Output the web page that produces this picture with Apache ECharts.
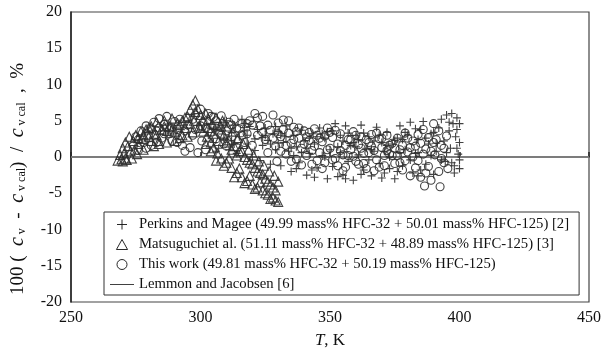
<!DOCTYPE html>
<html>
<head>
<meta charset="utf-8">
<script src="https://cdn.jsdelivr.net/npm/echarts@6/dist/echarts.min.js"></script>
<style>
  html, body { margin: 0; padding: 0; background: #fff; }
  #chart { width: 604px; height: 354px; }
</style>
</head>
<body>
<div id="chart"></div>
<script>
// Perkins and Magee [2]: [T (K), deviation (%)]
var perkins = [
  [303,3.0],[304,4.5],[305,2.0],[306,3.8],[307,1.2],[308,4.0],[309,2.6],[310,5.0],[311,1.0],[312,3.4],
  [313,4.4],[314,0.5],[315,2.8],[316,5.2],[317,3.6],[318,1.8],[319,4.2],[320,0.0],[321,2.5],[322,3.8],
  [323,-0.5],[324,1.6],[325,4.0],[326,2.3],[327,-1.0],[328,3.2],[329,1.0],[330,3.5],[331,-1.2],[332,2.0],
  [333,4.3],[334,0.8],[335,-2.0],[336,3.0],[337,1.4],[338,-0.8],[339,3.7],[340,2.2],[341,-2.5],[342,0.5],
  [343,3.2],[344,1.8],[345,-1.5],[346,4.0],[347,0.2],[348,2.6],[349,-3.0],[350,1.0],[351,3.6],[352,4.6],
  [353,-2.7],[354,0.6],[355,2.2],[356,4.3],[357,-0.6],[358,1.6],[359,-3.2],[360,3.0],[361,0.3],[362,4.4],
  [363,-1.8],[364,1.2],[365,2.8],[366,-2.6],[367,0.8],[368,4.1],[369,-0.9],[370,2.0],[371,-2.2],[372,3.4],
  [373,0.0],[374,1.8],[375,-3.0],[376,2.6],[377,4.3],[378,-1.2],[379,1.0],[380,3.0],[381,4.8],[382,-2.2],
  [383,0.5],[384,2.4],[385,3.8],[386,4.9],[387,-1.0],[388,1.8],[389,3.2],[390,-2.4],[391,0.8],[392,4.0],
  [393,5.2],[394,2.2],[394.5,-0.6],[395,5.8],[396,3.6],[396.5,1.2],[397,6.0],[397.5,4.6],[398,-1.2],[398.5,2.8],
  [399,5.4],[399,3.8],[399.5,0.4],[400,4.6],[400,2.0],[400,-1.6],[398,-2.2],
  [305,3.8],[312,2.2],[318,3.0],[324,2.7],[330,1.9],[336,0.2],[342,2.6],[348,0.0],[354,3.0],[360,1.4],
  [366,1.0],[372,1.6],[378,2.4],[384,0.6],[390,3.4],[396,4.8],
  [306,0.8],[309,4.8],[313,1.8],[317,4.6],[321,0.9],[325,3.0],[329,4.2],[333,2.8],[337,-1.6],[341,1.2],
  [345,2.8],[349,3.5],[353,1.4],[357,3.3],[361,2.4],[365,-0.4],[369,3.0],[373,-1.6],[377,0.6],[381,-0.4],
  [385,-1.8],[389,0.2],[393,-0.4],[397,-0.8],[327,1.8],[331,3.0],[335,1.2],[339,0.6],[343,-1.8],[347,3.2],
  [351,-1.3],[355,-2.5],[359,2.0],[363,3.3],[367,2.2],[371,0.8],[375,2.3],[379,3.4],[383,3.9],[387,2.6],
  [391,1.9],[395,0.6],[399,1.2],[400,-0.4],[344,-2.8],[356,-3.0],[362,-2.4],[370,-2.9],[376,-2.0],[384,-2.6]
];

// Matsuguchi et al. [3]
var matsuguchi = [
  [268,-0.5],[269,0.3],[269.5,-0.3],[270,1.2],[270.5,0.5],[271,2.0],[271.5,-0.4],[272,1.5],[272.5,2.8],[273,0.8],
  [273.5,-0.2],[274,2.2],[274.5,1.0],[275,3.0],[275.5,0.4],[276,1.8],[277,3.5],[277.5,2.5],[278,1.0],[279,3.8],
  [280,2.8],[281,4.2],[282,3.2],[283,4.8],[284,2.2],[285,3.8],[286,5.0],[287,2.0],[288,4.2],[289,5.3],
  [290,3.5],[291,4.6],[292,2.6],[293,5.0],[294,4.0],[295,5.6],[296,6.5],[297,7.2],[297.5,5.0],[298,7.8],
  [299,6.6],[299.5,4.2],[300,5.8],[301,3.5],[302,6.0],[302.5,2.8],[303,5.2],[304,2.0],[304.5,4.6],[305,1.2],
  [306,5.4],[306.5,0.5],[307,3.8],[308,-0.2],[308.5,5.0],[309,3.0],[310,-0.8],[310.5,4.2],[311,2.3],[312,-1.5],
  [312.5,3.5],[313,1.5],[314,-2.2],[314.5,2.6],[315,0.8],[316,-2.8],[316.5,1.8],[317,0.0],[318,-3.3],[318.5,1.0],
  [319,-0.8],[320,-3.8],[320.5,0.2],[321,-1.5],[322,-4.2],[322.5,-0.6],[323,-2.2],[324,-4.6],[324.5,-1.2],[325,-3.0],
  [326,-5.2],[326.5,-2.0],[327,-3.8],[328,-5.6],[328.5,-2.6],[329,-4.6],[330,-6.2],[330,-3.4],
  [270,-0.6],[271,-0.2],[282,1.5],[284,1.8],[290,2.2],[295,2.8],
  [301,5.0],[302,1.8],[303,4.0],[304,0.8],[305,3.2],[306,-0.5],[307,2.2],[308,4.2],[309,-1.2],[310,2.0],
  [311,-0.2],[312,1.0],[313,-2.8],[314,0.2],[315,-1.6],[316,0.8],[317,-3.6],[318,-0.4],[319,-2.6],[320,-1.0],
  [321,-4.4],[322,-2.0],[323,-3.5],[324,-2.4],[325,-5.0],[326,-3.4],[327,-5.8],[328,-4.2],[329,-6.0],
  [276,2.6],[278,3.0],[280,4.0],[283,3.0],[286,4.2],[289,3.8],[292,4.4],[294,5.4],[296,4.6],[298,6.2],
  [300,4.0],[297,3.4],[293,3.0],[287,3.6],[281,2.2]
];

// This work
var thisWork = [
  [274,1.5],[275,2.8],[276,0.9],[277,3.6],[278,2.0],[279,4.3],[280,3.0],[281,1.6],[282,4.8],[283,3.6],
  [284,5.3],[285,2.6],[286,4.5],[287,5.6],[288,3.2],[289,2.2],[290,4.9],[291,3.8],[292,5.2],[293,1.6],
  [294,0.8],[295,4.4],[296,1.3],[297,3.0],[298,5.8],[299,0.6],[300,6.6],[300.5,2.2],[301,4.8],[302,1.0],
  [303,6.0],[304,3.4],[305,5.5],[306,2.5],[307,4.2],[308,5.7],[309,1.8],[310,3.6],[311,4.8],[312,2.8],
  [313,5.2],[314,1.3],[315,3.9],[316,4.6],[317,2.0],[318,3.2],[319,5.0],[320,1.6],[321,6.0],[322,3.0],
  [323,4.3],[324,5.6],[325,2.4],[326,0.6],[327,3.7],[328,5.8],[329,1.5],[329.5,-0.6],[330,4.7],[331,2.8],
  [332,5.1],[333,0.4],[334,3.3],[335,1.9],[336,4.1],[337,-0.3],[338,2.6],[339,1.2],[340,3.6],[341,0.2],
  [342,2.3],[343,-1.0],[344,1.5],[345,3.0],[346,0.6],[347,2.1],[348,-0.8],[349,4.0],[350,1.2],[351,2.7],
  [352,-0.2],[353,1.8],[354,3.2],[355,0.3],[356,-1.4],[357,2.4],[358,1.0],[359,3.5],[360,-0.6],[361,1.7],
  [362,2.8],[363,0.5],[364,-1.6],[365,2.0],[366,3.1],[367,0.9],[368,-0.4],[369,2.5],[370,1.3],[371,-1.2],
  [372,3.0],[373,0.4],[374,1.9],[375,-0.9],[376,2.6],[377,1.0],[378,-1.8],[379,3.3],[380,0.7],[381,-2.6],
  [382,2.2],[383,1.5],[384,-0.5],[385,-2.8],[386,3.8],[386.5,-4.0],[387,1.1],[388,-1.3],[389,-3.2],[390,4.6],
  [390.5,0.3],[391,2.4],[392,-2.0],[392.5,-4.1],[393,1.6],[394,-0.8],[395,2.9],[395.5,-1.6],
  [283,2.0],[286,3.2],[289,4.0],[292,3.0],[298,3.8],[302,4.0],[306,5.0],[310,1.5],[314,4.0],[318,4.6],
  [322,5.4],[326,4.4],[330,3.2],[334,5.0],[338,4.0],[342,3.4],[346,2.6],[350,3.4],[354,0.9],[358,2.4],
  [362,1.2],[366,1.5],[370,2.6],[374,0.2],[378,1.6],[382,0.0],[386,0.4],[390,2.0],[394,1.2],
  [276,2.4],[279,1.2],[281,3.9],[284,4.0],[287,4.0],[291,2.0],[294,3.6],[297,5.2],[300,4.3],[304,5.6],
  [308,3.0],[312,4.4],[316,3.0],[320,4.4],[324,3.4],[328,2.6],[332,3.8],[336,2.4],[340,1.8],[344,3.9],
  [348,2.9],[352,3.7],[356,1.6],[360,3.0],[364,2.4],[368,3.3],[372,0.9],[376,0.2],[380,2.6],[384,3.1],
  [388,2.7],[392,3.6],[333,1.6],[337,3.5],[341,2.8],[345,-0.5],[349,1.0],[353,-1.2],[357,0.2],[361,-1.0],
  [365,0.6],[369,-1.4],[373,1.6],[377,-0.8],[381,1.3],[385,1.9],[389,0.8],[393,-0.2],[331,0.8],[335,-0.6],
  [339,-1.1],[343,0.9],[347,-1.6],[351,-0.4],[355,-1.9],[359,0.1],[363,-0.9],[367,-1.9],[371,0.2],[375,1.2],
  [379,-0.5],[383,-1.5],[387,-2.2]
];

// Lemmon and Jacobsen [6] reference (zero deviation)
var lemmon = [[250,0],[450,0]];

var xTicks = [250, 450, 50];
var yTicks = [-20, 20, 5];

var serif = 'Liberation Serif';
var ink = '#2e2e2e';
var plusPath = 'path://M5,0L5,10M0,5L10,5';
var triPath = 'path://M5,0L10,9L0,9Z';

var chart = echarts.init(document.getElementById('chart'));
chart.setOption({
  animation: false,
  backgroundColor: '#fff',
  grid: { left: 71, right: 13, top: 12, bottom: 51, show: true, borderColor: '#444', borderWidth: 1.2 },
  xAxis: {
    type: 'value', min: xTicks[0], max: xTicks[1], interval: xTicks[2],
    name: '{i|T}, K', nameLocation: 'middle', nameGap: 30,
    nameTextStyle: { fontFamily: serif, fontSize: 17, color: '#111',
      rich: { i: { fontFamily: serif, fontSize: 17, fontStyle: 'italic', color: '#111' } } },
    axisLine: { lineStyle: { color: '#222', width: 1.5 } },
    axisTick: { inside: true, length: 5, lineStyle: { color: '#222', width: 1.5 } },
    axisLabel: { fontFamily: serif, fontSize: 16, color: '#111', margin: 8 },
    splitLine: { show: false }
  },
  yAxis: {
    type: 'value', min: yTicks[0], max: yTicks[1], interval: yTicks[2],
    name: '100 (  {i|c}{s| v}  -  {i|c}{s| v cal})  /  {i|c}{s| v cal}  ,  %',
    nameLocation: 'middle', nameRotate: 90, nameGap: 43,
    nameTextStyle: { fontFamily: serif, fontSize: 19, color: '#111', padding: [0, 44, 0, 0],
      rich: {
        i: { fontFamily: serif, fontSize: 20, fontStyle: 'italic', color: '#111' },
        s: { fontFamily: serif, fontSize: 12, color: '#111', verticalAlign: 'bottom', lineHeight: 18 }
      } },
    axisLine: { lineStyle: { color: '#222', width: 1.5 } },
    axisTick: { show: false },
    axisLabel: { fontFamily: serif, fontSize: 16, color: '#111', margin: 9 },
    splitLine: { show: false }
  },
  legend: {
    orient: 'vertical', left: 104, top: 212,
    backgroundColor: '#fff', borderColor: '#333', borderWidth: 1,
    padding: [5, 10, 3, 6], itemGap: 5, itemWidth: 24, itemHeight: 10,
    textStyle: { fontFamily: serif, fontSize: 14.7, color: '#111', lineHeight: 14 },
    data: [
      { name: 'Perkins and Magee (49.99 mass% HFC-32 + 50.01 mass% HFC-125) [2]', icon: plusPath,
        itemStyle: { color: 'none', borderColor: '#111', borderWidth: 1 } },
      { name: 'Matsuguchiet al. (51.11 mass% HFC-32 + 48.89 mass% HFC-125) [3]', icon: triPath,
        itemStyle: { color: 'none', borderColor: '#111', borderWidth: 1 } },
      { name: 'This work (49.81 mass% HFC-32 + 50.19 mass% HFC-125)', icon: 'circle',
        itemStyle: { color: 'none', borderColor: '#111', borderWidth: 1 } },
      { name: 'Lemmon and Jacobsen [6]', icon: 'path://M0,0L30,0L30,1L0,1Z',
        itemStyle: { color: '#111', borderWidth: 0 } }
    ]
  },
  series: [
    {
      name: 'Lemmon and Jacobsen [6]', type: 'line', data: lemmon, symbol: 'none', z: 1,
      lineStyle: { color: '#888', width: 1.5 }, itemStyle: { color: '#888' }
    },
    {
      name: 'Perkins and Magee (49.99 mass% HFC-32 + 50.01 mass% HFC-125) [2]', type: 'scatter',
      data: perkins, symbol: plusPath, symbolSize: 8,
      itemStyle: { color: 'none', borderColor: ink, borderWidth: 1.1, opacity: 0.9 }
    },
    {
      name: 'Matsuguchiet al. (51.11 mass% HFC-32 + 48.89 mass% HFC-125) [3]', type: 'scatter',
      data: matsuguchi, symbol: 'triangle', symbolSize: 9,
      itemStyle: { color: 'none', borderColor: ink, borderWidth: 1.1, opacity: 0.9 }
    },
    {
      name: 'This work (49.81 mass% HFC-32 + 50.19 mass% HFC-125)', type: 'scatter',
      data: thisWork, symbol: 'circle', symbolSize: 8,
      itemStyle: { color: 'none', borderColor: ink, borderWidth: 1.1, opacity: 0.9 }
    }
  ]
});
</script>
</body>
</html>
